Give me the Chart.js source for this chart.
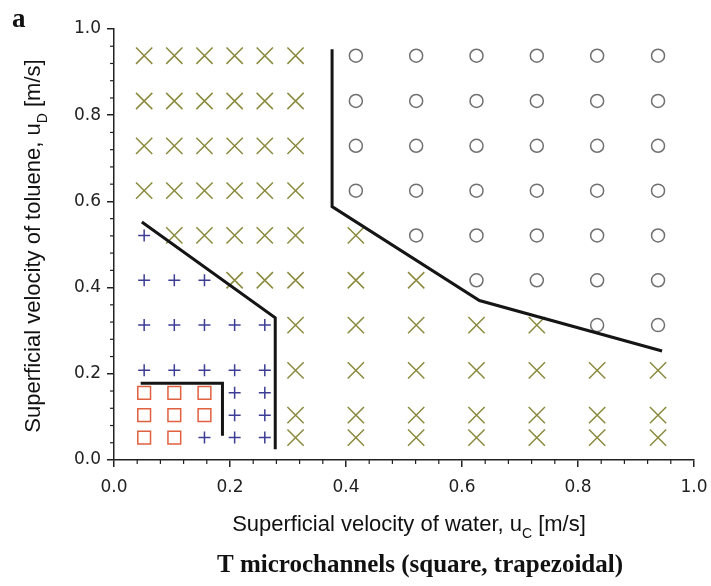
<!DOCTYPE html>
<html>
<head>
<meta charset="utf-8">
<script src="https://cdn.jsdelivr.net/npm/chart.js@4/dist/chart.umd.min.js"></script>
<style>
  html, body { margin: 0; padding: 0; background: #fff; }
  canvas { display: block; }
</style>
</head>
<body>
<canvas id="c" width="711" height="586"></canvas>
<script>
// Superficial velocities of the measurement grid [m/s]
const uC = [0.052, 0.104, 0.156, 0.208, 0.260, 0.313, 0.417, 0.521, 0.625, 0.729, 0.833, 0.938];
const uD = [0.052, 0.104, 0.156, 0.208, 0.313, 0.417, 0.521, 0.625, 0.729, 0.833, 0.938];

// Flow pattern seen at each point, one string per uD row, one character per uC column
// s = square, p = plus, x = cross, o = circle, . = no run
const regimeRows = [
  'sspppxxxxxxx', // 0.052
  'sssppxxxxxxx', // 0.104
  'ssspp.......', // 0.156
  'pppppxxxxxxx', // 0.208
  'pppppxxxxxoo', // 0.313
  'pppxxxxxoooo', // 0.417
  'pxxxxxxooooo', // 0.521
  'xxxxxxoooooo', // 0.625
  'xxxxxxoooooo', // 0.729
  'xxxxxxoooooo', // 0.833
  'xxxxxxoooooo'  // 0.938
];

// Transition boundaries between the flow patterns
const boundaryA_uC = [0.046, 0.187, 0.187];
const boundaryA_uD = [0.178, 0.178, 0.056];
const boundaryB_uC = [0.048, 0.278, 0.278];
const boundaryB_uD = [0.552, 0.330, 0.025];
const boundaryC_uC = [0.376, 0.376, 0.630, 0.945];
const boundaryC_uD = [0.953, 0.588, 0.370, 0.253];

// Axis ticks
const majorTicks = [0.0, 0.2, 0.4, 0.6, 0.8, 1.0];
const minorStep = 0.04;

const markerStyle = {
  s: { pointStyle: 'rect',     radius: 9,    color: '#e0603f', width: 1.5 },
  p: { pointStyle: 'cross',    radius: 6,    color: '#3d3d96', width: 1.5 },
  x: { pointStyle: 'crossRot', radius: 11.5, color: '#8a8a3e', width: 1.5 },
  o: { pointStyle: 'circle',   radius: 6.5,  color: '#707070', width: 1.5 }
};

function pointsFor(code) {
  const pts = [];
  regimeRows.forEach((row, i) => {
    row.split('').forEach((ch, j) => {
      if (ch === code) pts.push({ x: uC[j], y: uD[i] });
    });
  });
  return pts;
}

function boundary(xs, ys) {
  return {
    data: xs.map((x, i) => ({ x: x, y: ys[i] })),
    showLine: true,
    borderColor: '#151515',
    borderWidth: 3,
    pointRadius: 0,
    pointHoverRadius: 0,
    tension: 0,
    fill: false,
    clip: false
  };
}

const datasets = [
  boundary(boundaryA_uC, boundaryA_uD),
  boundary(boundaryB_uC, boundaryB_uD),
  boundary(boundaryC_uC, boundaryC_uD)
];
['s', 'p', 'x', 'o'].forEach(code => {
  const st = markerStyle[code];
  datasets.push({
    data: pointsFor(code),
    pointStyle: st.pointStyle,
    pointRadius: st.radius,
    pointHoverRadius: st.radius,
    pointBorderColor: st.color,
    pointBackgroundColor: 'rgba(0,0,0,0)',
    pointBorderWidth: st.width,
    showLine: false
  });
});

const AXIS_COLOR = '#222';
const SANS = '"Liberation Sans", Arial, sans-serif';
const TICK_FONT = '"DejaVu Sans", "Liberation Sans", sans-serif';
const SERIF = '"Liberation Serif", "Times New Roman", serif';

function axisOptions(fitFn, pad) {
  return {
    type: 'linear',
    min: 0,
    max: 1,
    afterBuildTicks: s => { s.ticks = majorTicks.map(v => ({ value: v })); },
    afterFit: fitFn,
    ticks: {
      callback: v => Number(v).toFixed(1),
      font: { family: TICK_FONT, size: 17 },
      color: AXIS_COLOR,
      padding: pad,
      maxRotation: 0,
      autoSkip: false
    },
    grid: {
      drawOnChartArea: false,
      drawTicks: true,
      tickLength: 7,
      color: AXIS_COLOR,
      lineWidth: 1.5
    },
    border: { display: true, color: AXIS_COLOR, width: 1.5 }
  };
}

// Minor ticks, panel letter, axis titles with subscripts and caption
const decorations = {
  id: 'decorations',
  afterDraw(chart) {
    const ctx = chart.ctx;
    const xs = chart.scales.x, ys = chart.scales.y;
    const area = chart.chartArea;
    ctx.save();
    ctx.strokeStyle = AXIS_COLOR;
    ctx.lineWidth = 1.2;
    for (let k = 1; k < 25; k++) {
      const v = k * minorStep;
      if (k % 5 === 0) continue;
      const px = xs.getPixelForValue(v);
      ctx.beginPath();
      ctx.moveTo(px, area.bottom);
      ctx.lineTo(px, area.bottom + 4);
      ctx.stroke();
      const py = ys.getPixelForValue(v);
      ctx.beginPath();
      ctx.moveTo(area.left, py);
      ctx.lineTo(area.left - 4, py);
      ctx.stroke();
    }

    ctx.fillStyle = '#111';
    ctx.textBaseline = 'alphabetic';

    // panel letter
    ctx.font = 'bold 27px ' + SERIF;
    ctx.textAlign = 'left';
    ctx.fillText('a', 12, 27);

    // title with subscript, centred on (0,0) in the current transform
    function subTitle(main, sub, tail, size) {
      const mainFont = size + 'px ' + SANS;
      const subFont = Math.round(size * 0.62) + 'px ' + SANS;
      ctx.font = mainFont;
      const w1 = ctx.measureText(main).width;
      ctx.font = subFont;
      const w2 = ctx.measureText(sub).width;
      ctx.font = mainFont;
      const w3 = ctx.measureText(tail).width;
      const total = w1 + w2 + w3;
      let x = -total / 2;
      ctx.textAlign = 'left';
      ctx.font = mainFont;
      ctx.fillText(main, x, 0);
      x += w1;
      ctx.font = subFont;
      ctx.fillText(sub, x, Math.round(size * 0.33));
      x += w2;
      ctx.font = mainFont;
      ctx.fillText(tail, x, 0);
    }

    // x axis title
    ctx.save();
    ctx.translate(409, 531);
    subTitle('Superficial velocity of water, u', 'C', ' [m/s]', 22);
    ctx.restore();

    // y axis title
    ctx.save();
    ctx.translate(40, 246);
    ctx.rotate(-Math.PI / 2);
    subTitle('Superficial velocity of toluene, u', 'D', ' [m/s]', 22);
    ctx.restore();

    // caption
    ctx.font = 'bold 25px ' + SERIF;
    ctx.textAlign = 'center';
    ctx.fillText('T microchannels (square, trapezoidal)', 420, 572);
    ctx.restore();
  }
};

new Chart(document.getElementById('c'), {
  type: 'scatter',
  data: { datasets: datasets },
  options: {
    responsive: false,
    animation: false,
    events: [],
    layout: { padding: { top: 29, right: 17, left: 0, bottom: 0 } },
    plugins: {
      legend: { display: false },
      tooltip: { enabled: false },
      title: { display: false }
    },
    scales: {
      x: axisOptions(s => { s.height = 126; s.paddingLeft = 0; s.paddingRight = 0; }, 10),
      y: axisOptions(s => { s.width = 114; s.paddingTop = 0; s.paddingBottom = 0; }, 6)
    }
  },
  plugins: [decorations]
});
</script>
</body>
</html>
